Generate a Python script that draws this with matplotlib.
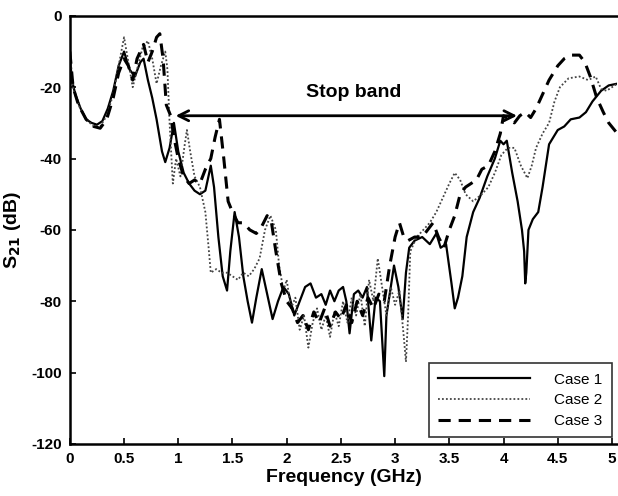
import matplotlib
matplotlib.use("Agg")
import matplotlib.pyplot as plt

plt.rcParams['font.family'] = ['Liberation Sans', 'DejaVu Sans']
plt.rcParams['axes.unicode_minus'] = False

# ---- data ----
f1 = [0, 0.02, 0.05, 0.1, 0.15, 0.2, 0.25, 0.3, 0.35, 0.4, 0.45, 0.5, 0.55, 0.6, 0.65, 0.68,
      0.72, 0.76, 0.8, 0.85, 0.88, 0.92, 0.96, 1.0, 1.05, 1.1, 1.15, 1.2, 1.25, 1.3, 1.33, 1.37,
      1.41, 1.45, 1.48, 1.52, 1.56, 1.6, 1.64, 1.68, 1.72, 1.77, 1.82, 1.87, 1.92, 1.97, 2.02,
      2.07, 2.12, 2.17, 2.22, 2.27, 2.32, 2.36, 2.4, 2.44, 2.48, 2.52, 2.55, 2.58, 2.62, 2.66,
      2.7, 2.74, 2.78, 2.82, 2.86, 2.9, 2.92, 2.95, 2.99, 3.03, 3.07, 3.1, 3.13, 3.18, 3.25,
      3.32, 3.38, 3.42, 3.47, 3.52, 3.55, 3.58, 3.62, 3.66, 3.72, 3.78, 3.85, 3.92, 3.97, 4.0,
      4.03, 4.08, 4.13, 4.17, 4.19, 4.2, 4.21, 4.23, 4.27, 4.32, 4.36, 4.42, 4.5, 4.56, 4.62,
      4.7, 4.76, 4.82, 4.9, 4.97, 5.05]
case1 = [-12, -18, -22, -26, -29, -30, -30.5, -29.5, -26, -21, -14, -10, -15, -17, -13, -12,
         -18, -23, -29, -38, -41, -37, -30, -38, -44, -47, -49, -50, -49, -42, -48, -62,
         -73, -77, -66, -55, -62, -73, -80, -86, -79, -71, -78, -85, -80, -76, -78,
         -84, -80, -76, -75, -79, -78, -81, -77, -80, -77, -76, -80, -89, -78, -77,
         -79, -76, -91, -79, -80, -101, -84, -78, -70, -76, -85, -72, -65, -63, -62,
         -64, -61, -65, -64, -75, -82, -79, -73, -62, -55, -51, -45, -40, -35, -36,
         -35, -44, -52, -60, -66, -75, -72, -60, -57, -55, -48, -36, -32, -31, -29,
         -28.5, -27, -24, -21, -19.5, -19]

f2 = [0, 0.03, 0.08, 0.15, 0.22, 0.28, 0.34, 0.4, 0.45, 0.5, 0.54, 0.58, 0.62, 0.67, 0.72,
      0.76, 0.8, 0.84, 0.88, 0.9, 0.92, 0.95, 0.98, 1.02, 1.06, 1.08, 1.11, 1.15, 1.2, 1.25,
      1.28, 1.3, 1.35, 1.4, 1.45, 1.5, 1.55, 1.6, 1.65, 1.7, 1.75, 1.8, 1.85, 1.9, 1.93,
      1.97, 2.0, 2.04, 2.08, 2.12, 2.16, 2.2, 2.24, 2.28, 2.32, 2.36, 2.4, 2.44, 2.48, 2.52,
      2.56, 2.6, 2.64, 2.68, 2.72, 2.76, 2.8, 2.84, 2.88, 2.92, 2.96, 3.0, 3.04, 3.08, 3.1,
      3.12, 3.14, 3.2, 3.26, 3.32, 3.38, 3.44, 3.5, 3.55, 3.6, 3.65, 3.72, 3.8, 3.86, 3.92,
      3.98, 4.04, 4.1, 4.16, 4.22, 4.26, 4.3, 4.36, 4.42, 4.47, 4.52, 4.6, 4.7, 4.78, 4.85,
      4.9, 4.95, 5.05]
case2 = [-10, -20, -25, -29, -31, -31, -28, -22, -14, -6, -13, -20, -15, -9, -7,
         -12, -19, -14, -10, -15, -30, -47, -40, -45, -36, -32, -38, -45, -48, -55,
         -65, -72, -71, -72, -72, -73, -74, -72, -73, -71, -68, -60, -56, -60, -70,
         -77, -74, -82, -79, -88, -84, -93, -86, -82, -88, -84, -90, -83, -87, -80,
         -86, -79, -84, -78, -87, -74, -80, -68, -76, -84, -76, -81, -77, -90, -97,
         -84, -66, -62, -60, -58, -55, -51, -47, -44, -46, -50, -52, -50, -48, -44,
         -39, -37, -37, -42, -45.5, -42, -37, -33, -30, -24, -20, -17.5, -17, -18, -17,
         -20.5, -21, -19]

f3 = [0, 0.03, 0.08, 0.15, 0.22, 0.28, 0.34, 0.4, 0.45, 0.5, 0.54, 0.58, 0.62, 0.68, 0.72,
      0.76, 0.8, 0.83, 0.86, 0.89, 0.93, 0.96, 1.0, 1.05, 1.1, 1.15, 1.2, 1.25, 1.3, 1.34,
      1.38, 1.42, 1.46, 1.5, 1.55, 1.6, 1.66, 1.72, 1.77, 1.82, 1.86, 1.9, 1.95, 2.0, 2.05,
      2.1, 2.15, 2.2, 2.25, 2.3, 2.35, 2.4, 2.45, 2.5, 2.55, 2.6, 2.65, 2.7, 2.75, 2.8,
      2.85, 2.9, 2.95, 3.0, 3.04, 3.08, 3.12, 3.18, 3.25, 3.3, 3.35, 3.4, 3.45, 3.5, 3.55,
      3.6, 3.65, 3.7, 3.75, 3.8, 3.86, 3.92, 3.97, 4.0, 4.05, 4.1, 4.15, 4.2, 4.25, 4.3,
      4.36, 4.42, 4.5, 4.56, 4.62, 4.7, 4.75, 4.8, 4.86, 4.92, 4.97, 5.05]
case3 = [-10, -20, -25, -29, -31, -31.5, -29, -23, -16, -12, -14, -18, -12, -8, -13,
         -10, -6, -5, -12, -25, -28, -34, -40, -45, -47, -46, -47, -43, -40, -34,
         -29, -40, -52, -55, -58, -58, -60, -61, -59, -56, -58, -66, -75, -80, -82,
         -86, -84, -88, -83, -86, -82, -87, -83, -85, -81, -86, -80, -84, -79, -82,
         -78, -80, -70, -62, -58, -62, -63, -62, -62, -60, -58, -62, -65, -60, -56,
         -50, -48, -47, -46, -43, -42, -38, -33, -28, -29, -30, -28, -27, -28.5, -26,
         -22, -18, -14, -12, -11, -11, -13, -17, -23, -27, -30, -33]

labels = ['Case 1', 'Case 2', 'Case 3']
xticks = [0, 0.5, 1, 1.5, 2, 2.5, 3, 3.5, 4, 4.5, 5]
xticklabels = ['0', '0.5', '1', '1.5', '2', '2.5', '3', '3.5', '4', '4.5', '5']
yticks = [0, -20, -40, -60, -80, -100, -120]
stop_band = (0.95, 4.15, -28)

# ---- figure ----
fig = plt.figure(figsize=(6.18, 4.96), dpi=100)
ax = fig.add_axes([0.113, 0.105, 0.886, 0.863])

ax.plot(f1, case1, color='black', lw=1.6, solid_joinstyle='round', label=labels[0])
ax.plot(f2, case2, color='#444444', lw=1.3, linestyle=(0, (1, 1.2)), label=labels[1])
ax.plot(f3, case3, color='black', lw=2.2, linestyle=(0, (4, 2.6)), label=labels[2])

ax.set_xlim(0, 5.05)
ax.set_ylim(-120, 0)
ax.set_xticks(xticks)
ax.set_xticklabels(xticklabels)
ax.set_yticks(yticks)
for lab in ax.get_xticklabels() + ax.get_yticklabels():
    lab.set_fontweight('bold')
    lab.set_fontsize(11)
ax.tick_params(direction='in', length=4, width=1.2, pad=6)
ax.spines['right'].set_visible(False)
for s in ['left', 'bottom', 'top']:
    ax.spines[s].set_linewidth(1.8)

ax.set_xlabel('Frequency (GHz)', fontsize=14, fontweight='bold', labelpad=2)
ax.set_ylabel(r'S$_{\mathbf{21}}$ (dB)', fontsize=14, fontweight='bold', labelpad=6)

ax.annotate('', xy=(stop_band[0], stop_band[2]), xytext=(stop_band[1], stop_band[2]),
            arrowprops=dict(arrowstyle='<->', lw=2, color='black', mutation_scale=18))
ax.text((stop_band[0] + stop_band[1]) / 2 + 0.07, -21.5, 'Stop band', fontsize=14,
        fontweight='bold', ha='center', va='center')

leg = ax.legend(loc='lower right', frameon=True, fancybox=False, edgecolor='black',
                fontsize=11, handlelength=6.0, handletextpad=1.6, borderpad=0.6,
                labelspacing=0.45, borderaxespad=0.0, bbox_to_anchor=(0.99, 0.015))
leg.get_frame().set_linewidth(1.2)

fig.savefig('out.png', dpi=100)
